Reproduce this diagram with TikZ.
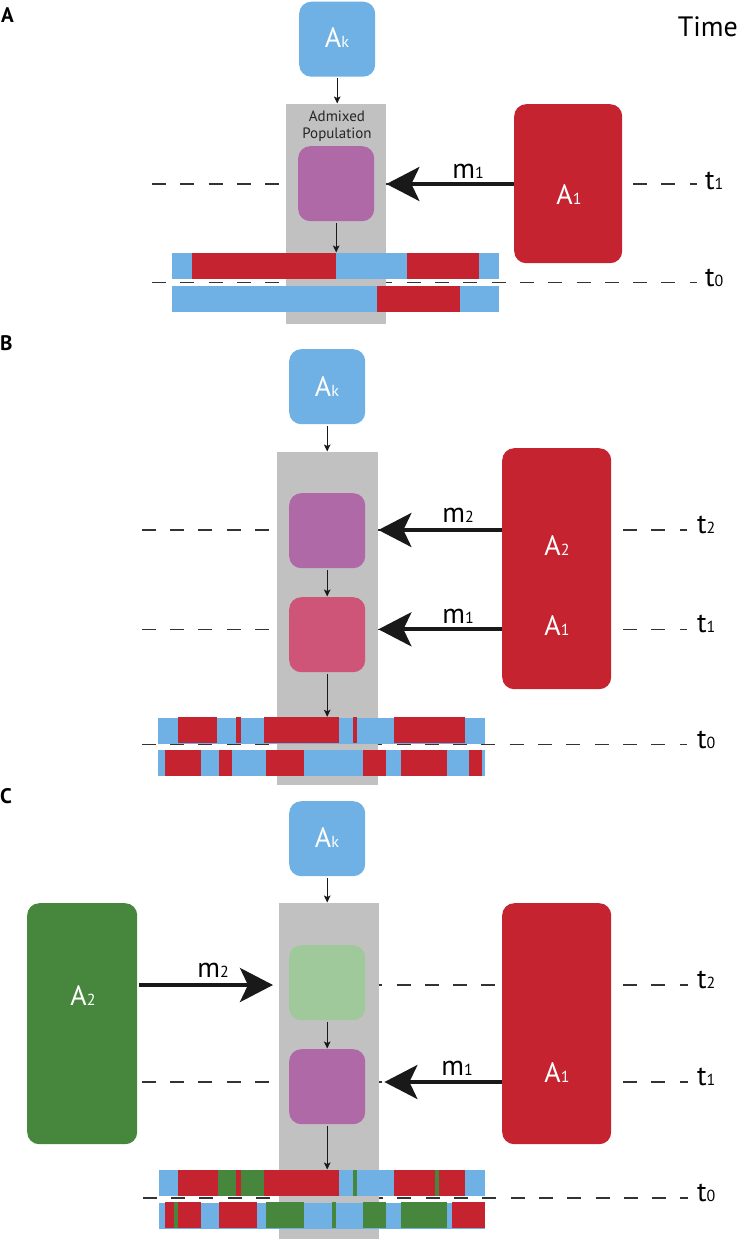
\documentclass[tikz,border=0pt]{standalone}
\usepackage{fontspec}
\setmainfont{PT Sans}
\usetikzlibrary{arrows.meta}
\definecolor{cblue}{HTML}{6FB1E4}
\definecolor{cred}{HTML}{C5232F}
\definecolor{cpurple}{HTML}{AE69A6}
\definecolor{cpink}{HTML}{CE5577}
\definecolor{clgreen}{HTML}{9FC99A}
\definecolor{cgreen}{HTML}{47873D}
\definecolor{cgray}{HTML}{C2C1C2}
\definecolor{cdash}{HTML}{333333}
\newcommand\sbs[1]{{\fontsize{16}{16}\selectfont #1}}
\tikzset{
  rbox/.style={rectangle, rounded corners=12pt, inner sep=0pt, draw=none, anchor=north west},
  smallbox/.style={rbox, minimum width=76pt, minimum height=75pt},
  graycol/.style={rectangle, fill=cgray, draw=none, inner sep=0pt, anchor=north west, minimum width=100pt},
  chrom/.style={rectangle, fill=cblue, draw=none, inner sep=0pt, anchor=north west, minimum width=327pt, minimum height=26pt},
  tline/.style={draw=cdash, line width=1.3pt, dash pattern=on 14pt off 14.3pt},
  sarrow/.style={draw=black!90, line width=1.1pt, -{Stealth[length=7pt,width=6.5pt,inset=1.5pt]}, shorten <=1.5pt, shorten >=0.5pt},
  barrow/.style={draw=black!90, line width=4pt, -{Stealth[length=33pt,width=34pt,inset=8pt]}},
  big/.style={font=\fontsize{28}{32}\selectfont, inner sep=0pt},
  wlab/.style={big, text=white, anchor=base},
  panel/.style={font=\fontsize{21}{24}\selectfont\bfseries, inner sep=0pt, anchor=base west},
}
\begin{document}
\begin{tikzpicture}[x=1pt,y=-1pt]
\useasboundingbox (0,0) rectangle (740,1239);

%%%%%%%%%%%%%%%% Panel A
\coordinate (tA1L) at (152,184);   \coordinate (tA1R) at (697,184);
\coordinate (tA0L) at (152,282.7); \coordinate (tA0R) at (697,282.7);
\draw[tline] (tA1L) -- (tA1R);
\draw[tline] (tA0L) -- (tA0R);
\node[graycol, minimum height=220pt] (grayA) at (286,104) {};
\node[smallbox, fill=cblue] (akA) at (299,1.5) {};
\node[smallbox, fill=cpurple] (purA) at (298,146) {};
\node[rbox, fill=cred, minimum width=108pt, minimum height=159pt] (redA) at (514,104) {};
\node[chrom] (cA1) at (172,253) {};
\foreach \a/\b in {192/335.7, 407.3/479} \fill[cred] (\a,253) rectangle (\b,279);
\node[chrom] (cA2) at (172,286) {};
\foreach \a/\b in {376.7/460} \fill[cred] (\a,286) rectangle (\b,312);
\draw[sarrow] (akA.south) -- (akA.south |- grayA.north);
\draw[sarrow] (purA.south) -- (purA.south |- cA1.north);
\draw[barrow] (redA.west |- tA1L) -- (grayA.east |- tA1L);
\node[panel] (labA) at (1,22.7) {A};
\node[big, anchor=base east] (time) at (738,37) {Time};
\node[wlab] (akAt) at (337,48) {A\sbs{k}};
\node[wlab] (a1At) at (569,204) {A\sbs{1}};
\node[big, anchor=base] (m1A) at (468,178) {m\sbs{1}};
\node[big, anchor=base west] (t1A) at (705,189) {t\sbs{1}};
\node[big, anchor=base west] (t0A) at (705,286) {t\sbs{0}};
\node[font=\fontsize{15}{17}\selectfont, inner sep=0pt, anchor=base, text=black!85] (admA) at (337,121.7) {Admixed};
\node[font=\fontsize{15}{17}\selectfont, inner sep=0pt, anchor=base, text=black!85] (popA) at (337,138.5) {Population};

%%%%%%%%%%%%%%%% Panel B
\coordinate (tB2L) at (141.8,530);   \coordinate (tB2R) at (687,530);
\coordinate (tB1L) at (141.8,629.3); \coordinate (tB1R) at (687,629.3);
\coordinate (tB0L) at (141.8,744.5); \coordinate (tB0R) at (687,744.5);
\draw[tline] (tB2L) -- (tB2R);
\draw[tline] (tB1L) -- (tB1R);
\draw[tline] (tB0L) -- (tB0R);
\node[graycol, minimum width=101pt, minimum height=333pt] (grayB) at (277,452) {};
\node[smallbox, fill=cblue] (akB) at (289,349) {};
\node[smallbox, fill=cpurple] (purB) at (289,493) {};
\node[smallbox, fill=cpink] (pinkB) at (289,597) {};
\node[rbox, fill=cred, minimum width=109pt, minimum height=241pt] (redB) at (502,448) {};
\node[chrom] (cB1) at (158,717.3) {};
\foreach \a/\b in {178.3/217.3, 236/240.7, 264/339, 352.7/357, 394/465.3} \fill[cred] (\a,717.3) rectangle (\b,743.3);
\node[chrom] (cB2) at (158,750) {};
\foreach \a/\b in {165/200.7, 219.3/232.3, 265.7/304.3, 362.7/386, 400.7/446.7, 469/482.3} \fill[cred] (\a,750) rectangle (\b,776);
\draw[sarrow] (akB.south) -- (akB.south |- grayB.north);
\draw[sarrow] (purB.south) -- (pinkB.north);
\draw[sarrow] (pinkB.south) -- (pinkB.south |- cB1.north);
\draw[barrow] (redB.west |- tB2L) -- (grayB.east |- tB2L);
\draw[barrow] (redB.west |- tB1L) -- (grayB.east |- tB1L);
\node[panel] (labB) at (0,350) {B};
\node[wlab] (akBt) at (327,396) {A\sbs{k}};
\node[wlab] (a2Bt) at (557,555) {A\sbs{2}};
\node[wlab] (a1Bt) at (557,635) {A\sbs{1}};
\node[big, anchor=base] (m2B) at (458,522) {m\sbs{2}};
\node[big, anchor=base] (m1B) at (458,623) {m\sbs{1}};
\node[big, anchor=base west] (t2B) at (697,533.5) {t\sbs{2}};
\node[big, anchor=base west] (t1B) at (697,632.8) {t\sbs{1}};
\node[big, anchor=base west] (t0B) at (697,748) {t\sbs{0}};

%%%%%%%%%%%%%%%% Panel C
\coordinate (tC2L) at (141.8,985);  \coordinate (tC2R) at (688,985);
\coordinate (tC1L) at (141.8,1082); \coordinate (tC1R) at (688,1082);
\coordinate (tC0L) at (142.7,1198); \coordinate (tC0R) at (688,1198);
\draw[tline] (tC2L) -- (tC2R);
\draw[tline] (tC1L) -- (tC1R);
\draw[tline] (tC0L) -- (tC0R);
\node[graycol, minimum height=336pt] (grayC) at (279,903) {};
\node[smallbox, fill=cblue] (akC) at (289,801) {};
\node[smallbox, fill=clgreen] (lgC) at (289,945) {};
\node[smallbox, fill=cpurple] (purC) at (289,1049) {};
\node[rbox, fill=cred, minimum width=109pt, minimum height=241pt] (redC) at (502,903) {};
\node[rbox, fill=cgreen, minimum width=110pt, minimum height=241pt] (greenC) at (27,903) {};
\node[chrom, minimum width=326pt] (cC1) at (159,1170) {};
\foreach \a/\b in {178.3/217.7, 236/240.7, 264/339, 394/435, 439.3/465.3} \fill[cred] (\a,1170) rectangle (\b,1196);
\foreach \a/\b in {217.7/236, 240.7/264, 352.7/357, 435/439.3} \fill[cgreen] (\a,1170) rectangle (\b,1196);
\node[chrom, minimum width=326pt] (cC2) at (159,1202.3) {};
\foreach \a/\b in {165/174.3, 177.7/200.7, 219.3/257.3, 451.7/485} \fill[cred] (\a,1202.3) rectangle (\b,1228.3);
\foreach \a/\b in {174.3/177.7, 265.7/304.3, 331.7/336, 362.7/386, 400.7/446.7} \fill[cgreen] (\a,1202.3) rectangle (\b,1228.3);
\draw[sarrow] (akC.south) -- (akC.south |- grayC.north);
\draw[sarrow] (lgC.south) -- (purC.north);
\draw[sarrow] (purC.south) -- (purC.south |- cC1.north);
\draw[barrow, shorten <=2pt, shorten >=6pt] (greenC.east |- tC2L) -- (grayC.west |- tC2L);
\draw[barrow, shorten >=5pt] (redC.west |- tC1L) -- (grayC.east |- tC1L);
\node[panel] (labC) at (0,803) {C};
\node[wlab] (akCt) at (327,847) {A\sbs{k}};
\node[wlab] (a2Ct) at (83,1005) {A\sbs{2}};
\node[wlab] (a1Ct) at (557,1082) {A\sbs{1}};
\node[big, anchor=base] (m2C) at (213,977) {m\sbs{2}};
\node[big, anchor=base] (m1C) at (457,1075) {m\sbs{1}};
\node[big, anchor=base west] (t2C) at (697,988.5) {t\sbs{2}};
\node[big, anchor=base west] (t1C) at (697,1085.5) {t\sbs{1}};
\node[big, anchor=base west] (t0C) at (697,1201.5) {t\sbs{0}};
\end{tikzpicture}
\end{document}
